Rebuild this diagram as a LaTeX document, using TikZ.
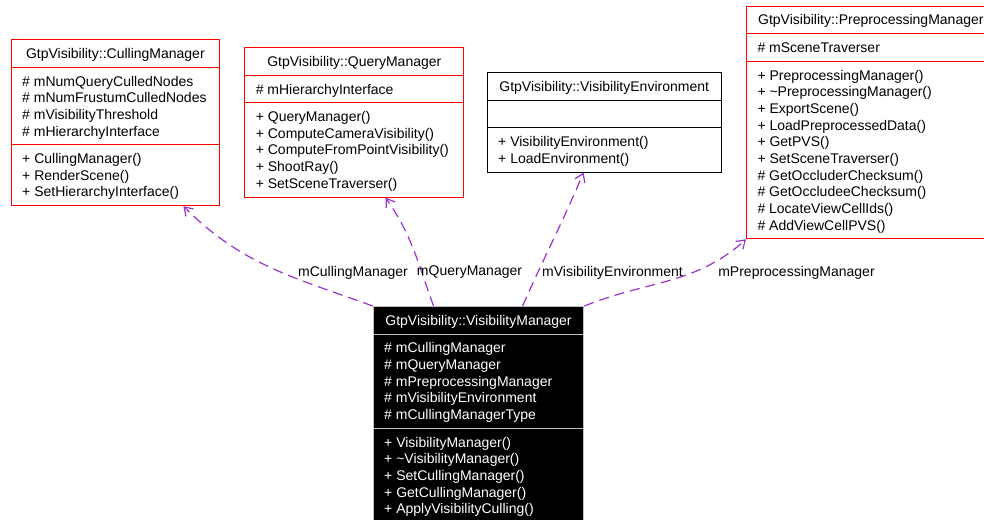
\documentclass[tikz,border=0pt]{standalone}
\usepackage{fontspec}
\setmainfont{Liberation Sans}
\usetikzlibrary{arrows.meta, shapes.multipart}
\definecolor{orchid}{HTML}{9A32CD}
\newcommand{\mlist}[1]{\raisebox{-1.25pt}[\height][\depth]{\begin{tabular}{@{}l@{}}#1\end{tabular}}}

\begin{document}
\begin{tikzpicture}[
  x=0.75pt, y=0.75pt,
  cls/.style={rectangle split, rectangle split parts=3, draw=red, line width=0.75pt,
              rectangle split part align={center,left,left}, anchor=north west,
              inner xsep=8.25pt, inner ysep=3.7pt, font=\fontsize{10.5}{12.5}\selectfont},
  link/.style={draw=orchid, line width=0.9pt, dash pattern=on 7.5pt off 4.5pt,
               -{Straight Barb[length=6pt, width=8pt, line width=0.9pt]}},
  lbl/.style={inner sep=0pt, font=\fontsize{10.5}{12.5}\selectfont}]
\useasboundingbox (0,0) rectangle (984,-519);
% classes
\node[cls, minimum width=156.25pt] (cm) at (10.7,-39.3)
  {\mlist{GtpVisibility::CullingManager}
   \nodepart{two}\mlist{\# mNumQueryCulledNodes\\ \# mNumFrustumCulledNodes\\
     \# mVisibilityThreshold\\ \# mHierarchyInterface}
   \nodepart{three}\mlist{+ CullingManager()\\ + RenderScene()\\ + SetHierarchyInterface()}};
\node[cls, minimum width=164.25pt] (qm) at (244.3,-47.3)
  {\mlist{GtpVisibility::QueryManager}
   \nodepart{two}\mlist{\# mHierarchyInterface}
   \nodepart{three}\mlist{+ QueryManager()\\ + ComputeCameraVisibility()\\
     + ComputeFromPointVisibility()\\ + ShootRay()\\ + SetSceneTraverser()}};
\node[cls, draw=black, minimum width=175.5pt] (ve) at (486.7,-72.3)
  {\mlist{GtpVisibility::VisibilityEnvironment}
   \nodepart{two}\mlist{\strut}
   \nodepart{three}\mlist{+ VisibilityEnvironment()\\ + LoadEnvironment()}};
\node[cls, minimum width=186.5pt] (pm) at (746,-5.7)
  {\mlist{GtpVisibility::PreprocessingManager}
   \nodepart{two}\mlist{\# mSceneTraverser}
   \nodepart{three}\mlist{+ PreprocessingManager()\\ + \textasciitilde PreprocessingManager()\\
     + ExportScene()\\ + LoadPreprocessedData()\\ + GetPVS()\\ + SetSceneTraverser()\\
     \# GetOccluderChecksum()\\ \# GetOccludeeChecksum()\\ \# LocateViewCellIds()\\
     \# AddViewCellPVS()}};
\node[cls, draw=black!25, fill=black, text=white, minimum width=158pt] (vm) at (372.7,-306)
  {\mlist{GtpVisibility::VisibilityManager}
   \nodepart{two}\mlist{\# mCullingManager\\ \# mQueryManager\\ \# mPreprocessingManager\\
     \# mVisibilityEnvironment\\ \# mCullingManagerType}
   \nodepart{three}\mlist{+ VisibilityManager()\\ + \textasciitilde VisibilityManager()\\
     + SetCullingManager()\\ + GetCullingManager()\\ + ApplyVisibilityCulling()}};
% usage links
\draw[link] (vm.north west) to[out=160, in=-45] ([xshift=51pt]cm.south);
\draw[link] ([xshift=-33.75pt]vm.north) to[out=110, in=-55] ([xshift=23.4pt]qm.south);
\draw[link] ([xshift=33pt]vm.north) to[out=66, in=-113] ([xshift=-15.5pt]ve.south);
\draw[link] (vm.north east) to[out=22, in=-138] (pm.south west);
\node[lbl] (l1) at (353,-272.5) {mCullingManager};
\node[lbl] (l2) at (469.5,-272.5) {mQueryManager};
\node[lbl] (l3) at (612.5,-272.5) {mVisibilityEnvironment};
\node[lbl] (l4) at (796.5,-272.5) {mPreprocessingManager};
\end{tikzpicture}
\end{document}
